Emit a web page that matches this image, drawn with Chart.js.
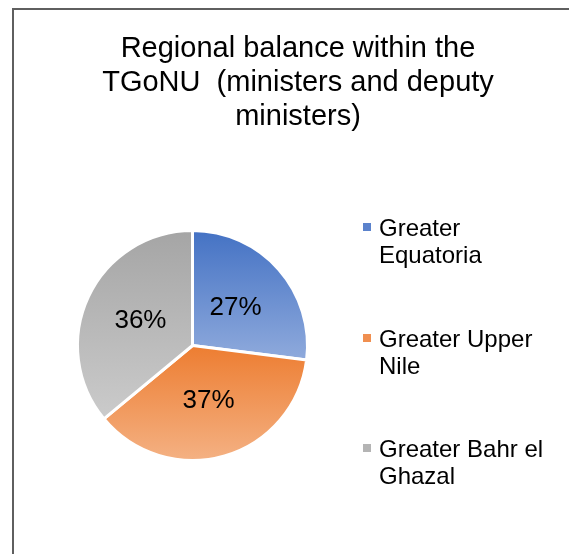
<!DOCTYPE html>
<html>
<head>
<meta charset="utf-8">
<script src="https://cdn.jsdelivr.net/npm/chart.js@4/dist/chart.umd.min.js"></script>
<style>
  html, body { margin: 0; padding: 0; background: #fff; }
  body { width: 569px; height: 554px; position: relative; overflow: hidden; font-family: "Liberation Sans", Arial, sans-serif; }
  #frame { position: absolute; left: 12px; top: 8px; right: -5px; bottom: -5px; border-top: 2px solid #5f5f5f; border-left: 2px solid #5f5f5f; }
  #chart { position: absolute; left: 0; top: 0; }
  #title { position: absolute; left: 28px; width: 540px; top: 30px; text-align: center; font-size: 29px; line-height: 34px; color: #000; white-space: pre; }
  .lg { position: absolute; left: 363px; width: 200px; font-size: 24px; line-height: 27px; color: #000; }
  .lg .mk { position: absolute; left: 0; top: 9px; width: 8px; height: 8px; }
  .lg .tx { position: absolute; left: 16px; width: 180px; white-space: normal; }
</style>
</head>
<body>
<div id="frame"></div>
<canvas id="chart" width="569" height="554"></canvas>
<div id="title"></div>
<div id="legend"></div>
<script>
const titleLines = ["Regional balance within the", "TGoNU  (ministers and deputy", "ministers)"];
const categories = ["Greater Equatoria", "Greater Upper Nile", "Greater Bahr el Ghazal"];
const values = [27, 37, 36];
const topColors = ["#4472C4", "#ED7D31", "#A5A5A5"];
const bottomColors = ["#8FAADC", "#F4B183", "#CBCBCB"];
const legendColors = ["#5B82CC", "#F08F50", "#B4B4B4"];
const legendTops = [214, 325, 435];

document.getElementById('title').textContent = titleLines.join("\n");

const legendEl = document.getElementById('legend');
categories.forEach((c, i) => {
  const d = document.createElement('div');
  d.className = 'lg';
  d.style.top = legendTops[i] + 'px';
  const mk = document.createElement('div');
  mk.className = 'mk';
  mk.style.background = legendColors[i];
  const tx = document.createElement('div');
  tx.className = 'tx';
  tx.textContent = c;
  d.appendChild(mk); d.appendChild(tx);
  legendEl.appendChild(d);
});

const total = values.reduce((a, b) => a + b, 0);

function sliceGradient(context) {
  const chart = context.chart;
  const area = chart.chartArea;
  const i = context.dataIndex;
  if (!area) return topColors[i];
  const cx = (area.left + area.right) / 2;
  const cy = (area.top + area.bottom) / 2;
  const r = (Math.min(area.right - area.left, area.bottom - area.top) - 3) / 2;
  let before = 0;
  for (let k = 0; k < i; k++) before += values[k];
  const a0 = -Math.PI / 2 + 2 * Math.PI * before / total;
  const a1 = a0 + 2 * Math.PI * values[i] / total;
  let ymin = cy, ymax = cy;
  for (let s = 0; s <= 200; s++) {
    const a = a0 + (a1 - a0) * s / 200;
    const y = cy + r * Math.sin(a);
    ymin = Math.min(ymin, y); ymax = Math.max(ymax, y);
  }
  const g = chart.ctx.createLinearGradient(0, ymin, 0, ymax);
  g.addColorStop(0, topColors[i]);
  g.addColorStop(1, bottomColors[i]);
  return g;
}

const labelPlugin = {
  id: 'sliceLabels',
  afterDatasetsDraw(chart) {
    const ctx = chart.ctx;
    const meta = chart.getDatasetMeta(0);
    ctx.save();
    ctx.font = '26px "Liberation Sans", Arial, sans-serif';
    ctx.fillStyle = '#000';
    ctx.textAlign = 'center';
    ctx.textBaseline = 'middle';
    meta.data.forEach((arc, i) => {
      const p = arc.tooltipPosition();
      ctx.fillText(Math.round(values[i] / total * 100) + '%', p.x, p.y);
    });
    ctx.restore();
  }
};

new Chart(document.getElementById('chart'), {
  type: 'pie',
  data: {
    labels: categories,
    datasets: [{
      data: values,
      backgroundColor: sliceGradient,
      borderColor: '#ffffff',
      borderWidth: 3
    }]
  },
  options: {
    responsive: false,
    animation: false,
    layout: { padding: { left: 76, right: 260, top: 229, bottom: 92 } },
    plugins: {
      legend: { display: false },
      title: { display: false },
      tooltip: { enabled: false }
    }
  },
  plugins: [labelPlugin]
});
</script>
</body>
</html>
